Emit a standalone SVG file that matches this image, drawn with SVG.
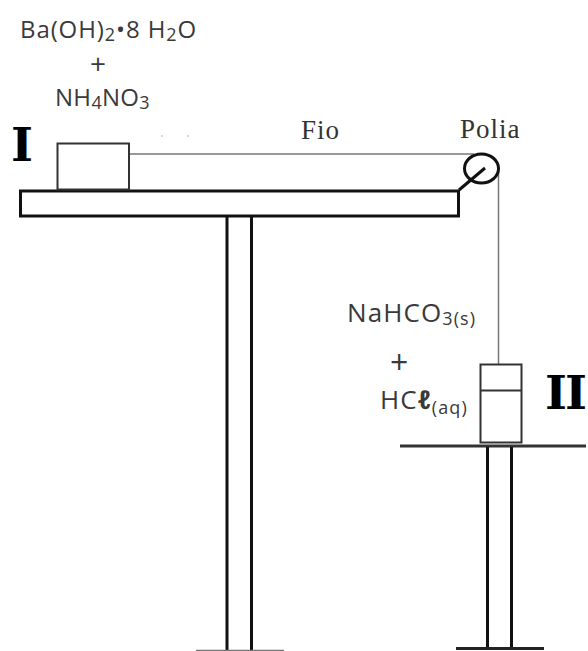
<svg xmlns="http://www.w3.org/2000/svg" width="588" height="651" viewBox="0 0 588 651">
<style>
.s{font-family:"Open Sans","Noto Sans","DejaVu Sans",sans-serif;font-size:24px;fill:#3a3a3a}
.l{font-size:26px;letter-spacing:1.1px}
.sub{font-size:18px}
.mono{font-family:"Liberation Serif","DejaVu Serif",serif;font-size:27px;fill:#333;letter-spacing:1px}
.b{font-family:"DejaVu Serif",serif;font-weight:bold;font-size:47px;fill:#000}
.k{fill:none;stroke:#111;stroke-width:3}
.m{fill:none;stroke:#333;stroke-width:2}
.t{fill:none;stroke:#777;stroke-width:1.5}
</style>
<rect width="588" height="651" fill="#fff"/>
<g id="connectors">
<path class="t" d="M130 154H474"/>
<path class="t" d="M498.500 170V364"/>
<circle cx="188" cy="136" r=".7" fill="#999"/><circle cx="162" cy="136" r=".7" fill="#999"/>
</g>
<g id="table-I">
<path class="k" d="M20.500 191H458.500V216H20.500Z"/>
<path class="k" d="M227 217V651M251.500 217V651"/>
<path d="M196 650.500H284" stroke="#777" stroke-width="1.500" fill="none"/>
<path class="k" d="M459 190L485 168"/>
</g>
<g id="pulley"><ellipse class="k" cx="481.500" cy="168.500" rx="17" ry="14.500"/></g>
<g id="block-I"><rect class="m" x="57.500" y="143.500" width="71.500" height="46"/></g>
<g id="block-II"><rect class="m" x="480.500" y="364.500" width="41" height="78"/><path class="m" d="M481 390.500H521"/></g>
<g id="table-II">
<path d="M400 446H586" stroke="#333" stroke-width="3" fill="none"/>
<path class="k" d="M487.500 447V648M511.500 447V648"/>
<path d="M456 648.500H544" stroke="#222" stroke-width="3" fill="none"/>
</g>
<g id="labels">
<text class="s" x="20" y="38" letter-spacing=".9">Ba(OH)<tspan class="sub" dy="3">2</tspan><tspan dy="-3">•8 H</tspan><tspan class="sub" dy="3">2</tspan><tspan dy="-3">O</tspan></text>
<text class="s" x="90" y="74" font-size="28" style="font-size:28px">+</text>
<text class="s" x="55" y="106" letter-spacing=".3">NH<tspan class="sub" dy="3">4</tspan><tspan dy="-3">NO</tspan><tspan class="sub" dy="3">3</tspan></text>
<text class="b" x="11" y="161">I</text>
<text class="mono" x="301" y="139">Fio</text>
<text class="mono" x="460" y="138">Polia</text>
<text class="s l" x="347" y="322">NaHCO<tspan class="sub" dy="3">3(s)</tspan></text>
<text class="s" x="390" y="373.500" style="font-size:32px">+</text>
<text class="s l" x="380" y="409">HC<tspan font-style="italic" font-weight="bold">ℓ</tspan><tspan class="sub" dy="5">(aq)</tspan></text>
<text class="b" x="545" y="409" letter-spacing="-2">II</text>
</g>
</svg>
